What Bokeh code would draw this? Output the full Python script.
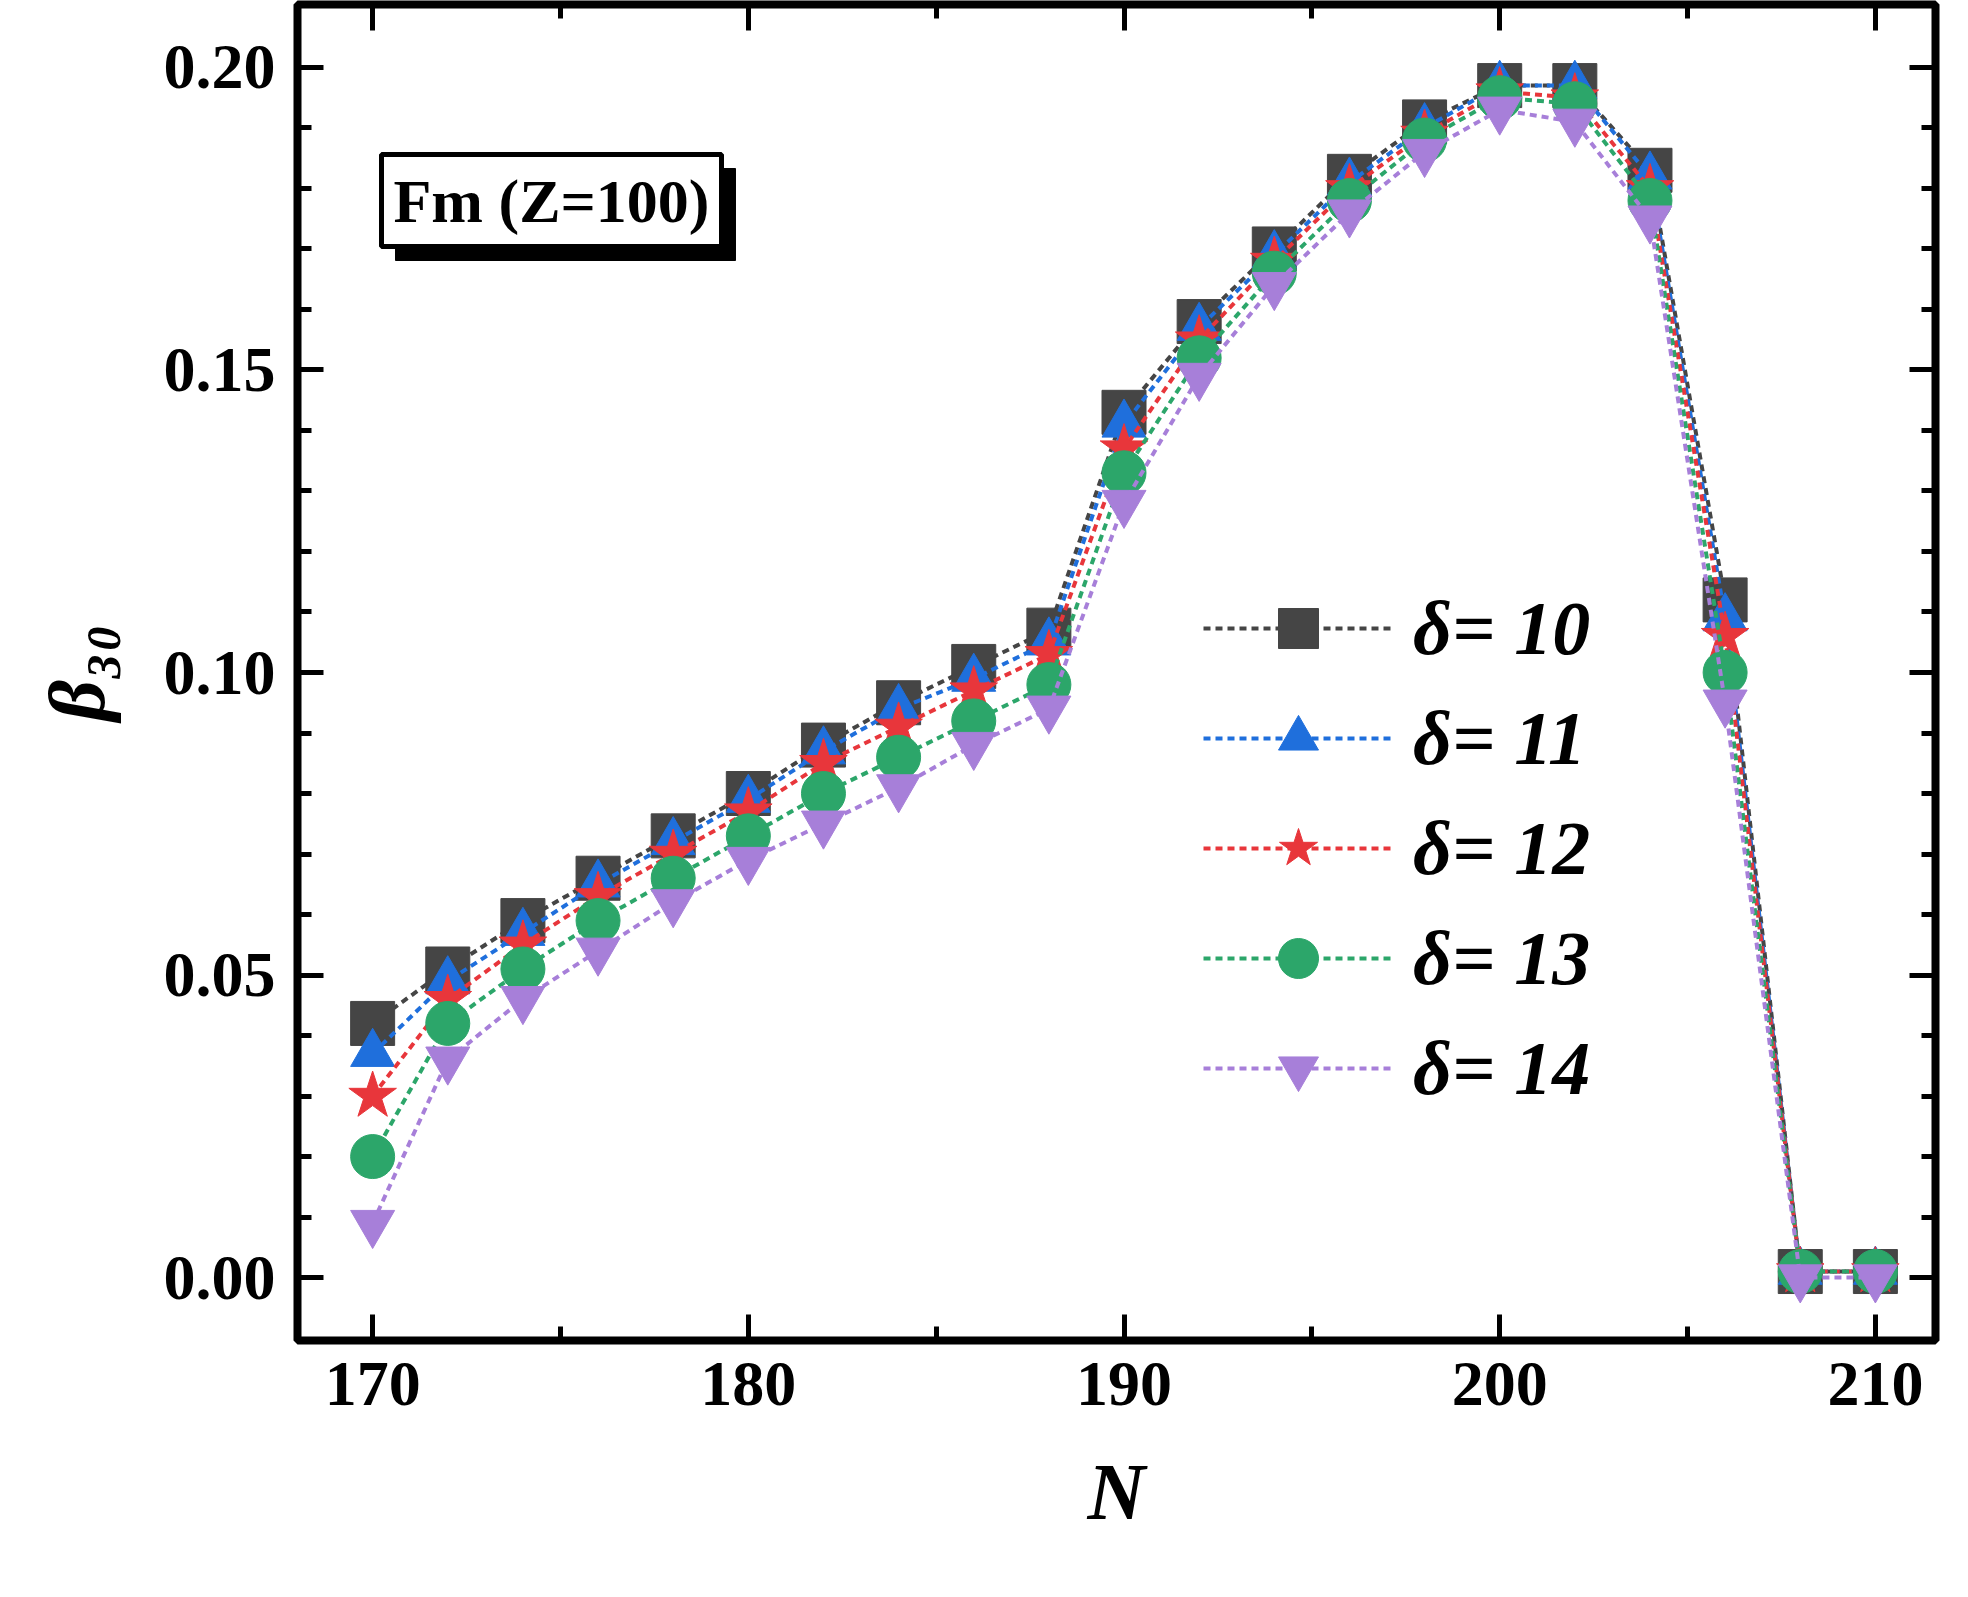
from bokeh.plotting import figure
from bokeh.models import Label, LinearAxis, Legend, LegendItem, FixedTicker, PrintfTickFormatter, CustomJSTickFormatter
from bokeh.embed import file_html
from bokeh.resources import INLINE

N = list(range(170, 211, 2))
d10 = [0.042,0.051,0.059,0.066,0.073,0.080,0.088,0.095,0.101,0.107,0.143,0.158,0.170,0.182,0.191,0.197,0.197,0.183,0.112,0.001,0.001]
d11 = [0.037,0.049,0.057,0.065,0.072,0.079,0.087,0.094,0.099,0.105,0.141,0.157,0.169,0.181,0.190,0.197,0.197,0.182,0.109,0.001,0.001]
d12 = [0.030,0.046,0.055,0.063,0.070,0.077,0.085,0.091,0.097,0.103,0.137,0.155,0.168,0.180,0.189,0.196,0.195,0.180,0.106,0.001,0.001]
d13 = [0.020,0.042,0.051,0.059,0.066,0.073,0.080,0.086,0.092,0.098,0.133,0.152,0.166,0.178,0.188,0.195,0.194,0.178,0.100,0.001,0.001]
d14 = [0.009,0.036,0.046,0.054,0.062,0.069,0.075,0.081,0.088,0.094,0.128,0.149,0.164,0.176,0.186,0.193,0.191,0.175,0.095,0.000,0.000]
series = [("δ= 10", d10, "#454545", "square"),
          ("δ= 11", d11, "#1f6fdc", "triangle"),
          ("δ= 12", d12, "#e8363b", "star"),
          ("δ= 13", d13, "#2ca66a", "circle"),
          ("δ= 14", d14, "#a77fd9", "inverted_triangle")]

F = "Liberation Serif"
p = figure(width=1950, height=1585, x_range=(168, 211.6), y_range=(-0.0104, 0.2104),
           output_backend="svg", toolbar_location=None,
           min_border_left=297, min_border_right=15, min_border_top=4, min_border_bottom=245)
p.grid.visible = False
p.outline_line_color = "black"
p.outline_line_width = 8

def style(ax, labels=True):
    ax.axis_line_color = None
    ax.major_tick_in = 26; ax.major_tick_out = 0
    ax.minor_tick_in = 14; ax.minor_tick_out = 0
    ax.major_tick_line_width = 5; ax.minor_tick_line_width = 5
    ax.major_label_text_font = F
    ax.major_label_text_font_style = "bold"
    ax.major_label_text_font_size = "64px"
    ax.major_label_text_color = "black"
    ax.major_label_standoff = 22
    if not labels:
        ax.formatter = CustomJSTickFormatter(code="return ''")

xt = FixedTicker(ticks=[170, 180, 190, 200, 210], minor_ticks=[175, 185, 195, 205])
yt = FixedTicker(ticks=[0, 0.05, 0.1, 0.15, 0.2], minor_ticks=[i/100 for i in range(0, 21)])
p.xaxis.ticker = xt
p.yaxis.ticker = yt
p.yaxis.formatter = PrintfTickFormatter(format="%.2f")
style(p.xaxis[0]); style(p.yaxis[0])
p.xaxis.axis_label = "N"
p.yaxis.axis_label = "β₃₀"
for ax in (p.xaxis[0], p.yaxis[0]):
    ax.axis_label_text_font = F
    ax.axis_label_text_font_style = "bold italic"
    ax.axis_label_text_font_size = "80px"
    ax.axis_label_text_color = "black"
    ax.axis_label_standoff = 40
r = LinearAxis(ticker=yt); style(r, False); p.add_layout(r, "right")
t = LinearAxis(ticker=xt); style(t, False); p.add_layout(t, "above")

items = []
for name, ys, c, m in series:
    l = p.line(N, ys, line_color=c, line_width=4, line_dash="7 5")
    s = p.scatter(N, ys, marker=m, size=44 if m != "star" else 50, fill_color=c, line_color=c)
    items.append(LegendItem(label=name, renderers=[l, s]))

leg = Legend(items=items, location=(906, 222), background_fill_alpha=0, border_line_color=None,
             label_text_font=F, label_text_font_style="bold italic", label_text_font_size="76px",
             label_text_color="black",
             glyph_width=190, glyph_height=100, label_height=100, spacing=10, label_standoff=20)
p.add_layout(leg)

p.add_layout(Label(x=98, y=1080, x_units="screen", y_units="screen", text="Fm (Z=100)",
                   text_font=F, text_font_style="bold", text_font_size="62px", text_color="black",
                   background_fill_color="black", border_line_color="black", padding=12))
p.add_layout(Label(x=84, y=1094, x_units="screen", y_units="screen", text="Fm (Z=100)",
                   text_font=F, text_font_style="bold", text_font_size="62px", text_color="black",
                   background_fill_color="white", border_line_color="black", border_line_width=5, padding=12))

open("out.html", "w").write(file_html(p, INLINE))
